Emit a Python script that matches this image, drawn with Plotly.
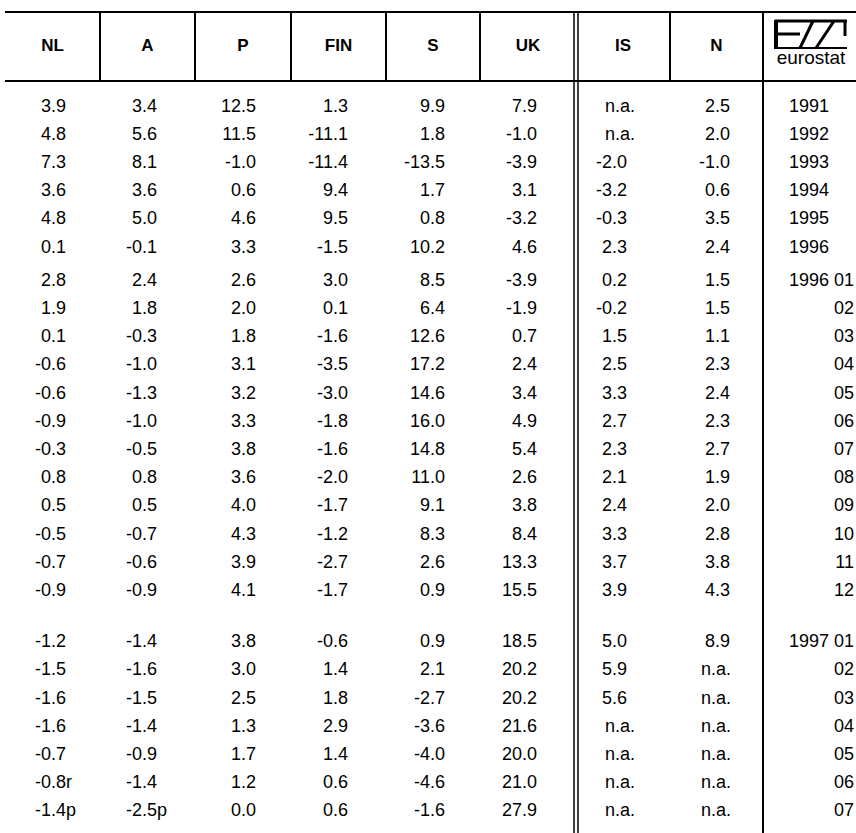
import plotly.graph_objects as go

# column headers and row labels
countries = ["NL", "A", "P", "FIN", "S", "UK", "IS", "N"]
periods = ["1991", "1992", "1993", "1994", "1995", "1996",
           "1996 01", "02", "03", "04", "05", "06", "07", "08", "09", "10", "11", "12",
           "1997 01", "02", "03", "04", "05", "06", "07"]

# values per country (None = n.a.)
nl = [3.9, 4.8, 7.3, 3.6, 4.8, 0.1, 2.8, 1.9, 0.1, -0.6, -0.6, -0.9, -0.3, 0.8, 0.5,
      -0.5, -0.7, -0.9, -1.2, -1.5, -1.6, -1.6, -0.7, -0.8, -1.4]
a = [3.4, 5.6, 8.1, 3.6, 5.0, -0.1, 2.4, 1.8, -0.3, -1.0, -1.3, -1.0, -0.5, 0.8, 0.5,
     -0.7, -0.6, -0.9, -1.4, -1.6, -1.5, -1.4, -0.9, -1.4, -2.5]
p = [12.5, 11.5, -1.0, 0.6, 4.6, 3.3, 2.6, 2.0, 1.8, 3.1, 3.2, 3.3, 3.8, 3.6, 4.0,
     4.3, 3.9, 4.1, 3.8, 3.0, 2.5, 1.3, 1.7, 1.2, 0.0]
fin = [1.3, -11.1, -11.4, 9.4, 9.5, -1.5, 3.0, 0.1, -1.6, -3.5, -3.0, -1.8, -1.6, -2.0, -1.7,
       -1.2, -2.7, -1.7, -0.6, 1.4, 1.8, 2.9, 1.4, 0.6, 0.6]
s = [9.9, 1.8, -13.5, 1.7, 0.8, 10.2, 8.5, 6.4, 12.6, 17.2, 14.6, 16.0, 14.8, 11.0, 9.1,
     8.3, 2.6, 0.9, 0.9, 2.1, -2.7, -3.6, -4.0, -4.6, -1.6]
uk = [7.9, -1.0, -3.9, 3.1, -3.2, 4.6, -3.9, -1.9, 0.7, 2.4, 3.4, 4.9, 5.4, 2.6, 3.8,
      8.4, 13.3, 15.5, 18.5, 20.2, 20.2, 21.6, 20.0, 21.0, 27.9]
is_ = [None, None, -2.0, -3.2, -0.3, 2.3, 0.2, -0.2, 1.5, 2.5, 3.3, 2.7, 2.3, 2.1, 2.4,
       3.3, 3.7, 3.9, 5.0, 5.9, 5.6, None, None, None, None]
n = [2.5, 2.0, -1.0, 0.6, 3.5, 2.4, 1.5, 1.5, 1.1, 2.3, 2.4, 2.3, 2.7, 1.9, 2.0,
     2.8, 3.8, 4.3, 8.9, None, None, None, None, None, None]

# r = revised, p = provisional
nl_flags = [""] * 23 + ["r", "p"]
a_flags = [""] * 24 + ["p"]

columns = [nl, a, p, fin, s, uk, is_, n]
flags = [nl_flags, a_flags] + [[""] * len(periods)] * 6

# layout in pixel units
W, H = 856, 833
col_edges = [5, 100, 195, 291, 386, 480, 576, 670, 763, 856]
num_right = [66, 157, 256, 348, 445, 537, 627, 730]
na_right = [66, 157, 256, 348, 445, 537, 635, 731]
FONT = "Liberation Sans, Arial, Helvetica, sans-serif"
FS = 18


def row_y(i):
    y = 107 + 28.2 * i
    if i >= 6:
        y += 5
    if i >= 18:
        y += 23
    return y


rows = [row_y(i) for i in range(len(periods))]

fig = go.Figure()

# header labels
fig.add_trace(go.Scatter(
    x=[(col_edges[k] + col_edges[k + 1]) / 2 for k in range(len(countries))],
    y=[47] * len(countries), text=countries, mode="text",
    textfont=dict(family=FONT, size=17, color="black", weight="bold"),
    hoverinfo="skip", showlegend=False))

# numbers, right aligned per column
for k, (vals, fl) in enumerate(zip(columns, flags)):
    fig.add_trace(go.Scatter(
        x=[num_right[k] if v is not None else na_right[k] for v in vals], y=rows,
        text=["n.a." if v is None else f"{v:.1f}" for v in vals], mode="text",
        textposition="middle left",
        textfont=dict(family=FONT, size=FS, color="black"),
        hoverinfo="skip", showlegend=False))
    if any(fl):
        idx = [i for i, f in enumerate(fl) if f]
        fig.add_trace(go.Scatter(
            x=[num_right[k]] * len(idx), y=[rows[i] for i in idx],
            text=[fl[i] for i in idx], mode="text", textposition="middle right",
            textfont=dict(family=FONT, size=FS, color="black"),
            hoverinfo="skip", showlegend=False))

# period labels: year part and month part
yr_y, yr_t, mo_y, mo_t = [], [], [], []
for i, lab in enumerate(periods):
    parts = lab.split(" ")
    if len(parts) == 2:
        yr_y.append(rows[i]); yr_t.append(parts[0])
        mo_y.append(rows[i]); mo_t.append(parts[1])
    elif len(lab) == 4:
        yr_y.append(rows[i]); yr_t.append(lab)
    else:
        mo_y.append(rows[i]); mo_t.append(lab)
fig.add_trace(go.Scatter(x=[829] * len(yr_y), y=yr_y, text=yr_t, mode="text",
                         textposition="middle left",
                         textfont=dict(family=FONT, size=FS, color="black"),
                         hoverinfo="skip", showlegend=False))
fig.add_trace(go.Scatter(x=[854] * len(mo_y), y=mo_y, text=mo_t, mode="text",
                         textposition="middle left",
                         textfont=dict(family=FONT, size=FS, color="black"),
                         hoverinfo="skip", showlegend=False))

# logo text
fig.add_trace(go.Scatter(x=[811], y=[59], text=["eurostat"], mode="text",
                         textfont=dict(family=FONT, size=19, color="black"),
                         hoverinfo="skip", showlegend=False))

# table rules
shapes = []
ln = dict(color="black", width=2)
shapes.append(dict(type="line", x0=5, x1=W, y0=12, y1=12, line=ln))
shapes.append(dict(type="line", x0=5, x1=W, y0=81, y1=81, line=ln))
for xe in [100, 195, 291, 386, 480, 670]:
    shapes.append(dict(type="line", x0=xe, x1=xe, y0=12, y1=81, line=ln))
for xe in [574, 578]:
    shapes.append(dict(type="line", x0=xe, x1=xe, y0=12, y1=H,
                       line=dict(color="black", width=1.5)))
shapes.append(dict(type="line", x0=763, x1=763, y0=12, y1=H, line=ln))

# eurostat logo mark
thick = dict(color="black", width=3)
shapes += [
    dict(type="line", x0=776, x1=776, y0=20, y1=49, line=dict(color="black", width=4)),
    dict(type="line", x0=775, x1=847, y0=21, y1=21, line=thick),
    dict(type="line", x0=775, x1=847, y0=48, y1=48, line=dict(color="black", width=2)),
    dict(type="line", x0=777, x1=800, y0=34, y1=34, line=thick),
    dict(type="line", x0=800, x1=813, y0=48, y1=21, line=thick),
    dict(type="line", x0=816, x1=834, y0=48, y1=21, line=thick),
    dict(type="line", x0=845, x1=845, y0=21, y1=36, line=thick),
]

fig.update_layout(
    width=W, height=H,
    margin=dict(l=0, r=0, t=0, b=0),
    paper_bgcolor="white", plot_bgcolor="white",
    xaxis=dict(range=[0, W], visible=False, fixedrange=True),
    yaxis=dict(range=[H, 0], visible=False, fixedrange=True),
    shapes=shapes,
)

fig.write_html("out.html", config={"displayModeBar": False},
               post_script="document.body.style.margin='0';document.body.style.overflow='hidden';")
